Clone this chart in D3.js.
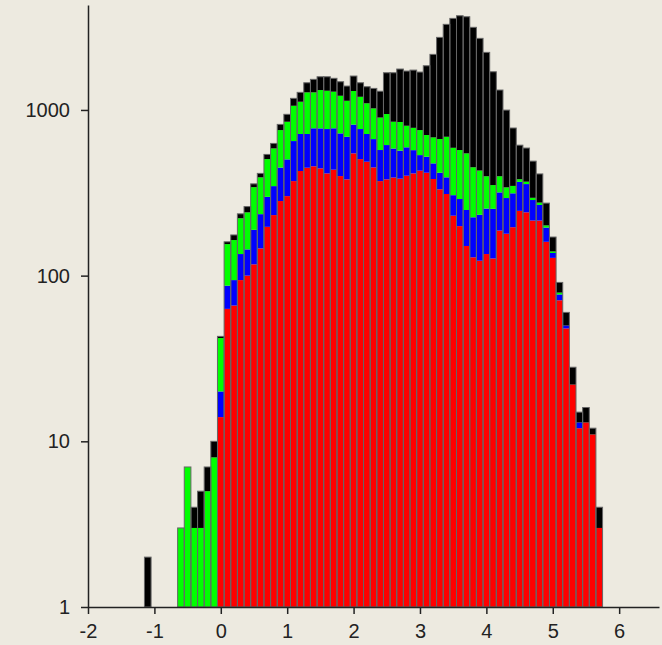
<!DOCTYPE html>
<html>
<head>
<meta charset="utf-8">
<script src="https://cdn.jsdelivr.net/npm/d3@7"></script>
<style>
  html, body { margin: 0; padding: 0; background: #edeae0; }
  .axis text { font-family: 'Liberation Sans', Arial, sans-serif; font-size: 20px; fill: #222; }
  .axis path, .axis line { stroke: #222; stroke-width: 1.5; }
</style>
</head>
<body>
<div id="chart"></div>
<script>
// bin centres, width 0.1
const binCenters = [
    -1.1, -1.0, -0.9, -0.8, -0.7, -0.6, -0.5, -0.4, -0.3, -0.2, -0.1,
    0.0, 0.1, 0.2, 0.3, 0.4, 0.5, 0.6, 0.7, 0.8, 0.9,
    1.0, 1.1, 1.2, 1.3, 1.4, 1.5, 1.6, 1.7, 1.8, 1.9,
    2.0, 2.1, 2.2, 2.3, 2.4, 2.5, 2.6, 2.7, 2.8, 2.9,
    3.0, 3.1, 3.2, 3.3, 3.4, 3.5, 3.6, 3.7, 3.8, 3.9,
    4.0, 4.1, 4.2, 4.3, 4.4, 4.5, 4.6, 4.7, 4.8, 4.9,
    5.0, 5.1, 5.2, 5.3, 5.4, 5.5, 5.6, 5.7
];

const redCounts = [
    0, 0, 0, 0, 0, 0, 0, 0, 0, 0, 0,
    14, 63, 66, 94, 100, 117, 146, 197, 232, 282,
    302, 372, 428, 448, 457, 444, 414, 436, 399, 381,
    547, 505, 487, 450, 372, 381, 391, 385, 401, 414,
    430, 418, 383, 332, 311, 230, 199, 151, 129, 123,
    135, 127, 187, 179, 196, 246, 241, 215, 215, 160,
    128, 71, 48, 22, 12, 13, 11, 3
];

const blueCounts = [
    0, 0, 0, 0, 0, 0, 0, 0, 0, 0, 0,
    6, 24, 28, 41, 44, 72, 89, 102, 115, 167,
    201, 277, 288, 268, 318, 330, 353, 339, 323, 308,
    269, 262, 229, 217, 201, 233, 194, 183, 194, 158,
    104, 104, 93, 86, 81, 76, 91, 98, 96, 110,
    119, 126, 131, 115, 118, 122, 116, 71, 52, 35,
    9, 6, 2, 0, 1, 0, 0, 0
];

const greenCounts = [
    0, 0, 0, 0, 0, 3, 7, 3, 3, 5, 8,
    22, 68, 70, 87, 97, 153, 157, 206, 239, 307,
    346, 411, 405, 561, 502, 545, 539, 514, 496, 447,
    485, 434, 381, 355, 327, 331, 264, 278, 208, 208,
    222, 184, 207, 250, 297, 285, 283, 298, 226, 198,
    144, 99, 80, 47, 34, 14, 12, 9, 9, 6,
    3, 2, 0, 0, 0, 0, 0, 0
];

const blackCounts = [
    2, 0, 0, 0, 0, 0, 0, 1, 2, 2, 2,
    1, 5, 12, 14, 20, 16, 22, 34, 42, 62,
    92, 115, 156, 182, 253, 267, 280, 263, 262, 258,
    301, 258, 284, 327, 397, 732, 828, 920, 914, 960,
    937, 1142, 1482, 2074, 2597, 2979, 3130, 3105, 2702, 2274,
    1828, 1348, 921, 657, 430, 231, 220, 196, 135, 73,
    31, 12, 10, 6, 2, 3, 1, 1
];

const seriesKeys = ['red', 'blue', 'green', 'black'];
const seriesColors = { red: '#ff0000', blue: '#0000ff', green: '#00ff00', black: '#000000' };

const xTicks = [-2, -1, 0, 1, 2, 3, 4, 5, 6];
const yTicks = [1, 10, 100, 1000];
const binWidth = 0.1;

const svgWidth = 662;
const svgHeight = 645;

const rows = binCenters.map((c, i) => ({
    center: c,
    red: redCounts[i],
    blue: blueCounts[i],
    green: greenCounts[i],
    black: blackCounts[i]
}));

const svg = d3.select('#chart')
    .append('svg')
    .attr('width', svgWidth)
    .attr('height', svgHeight)
    .style('display', 'block');

svg.append('rect')
    .attr('width', svgWidth)
    .attr('height', svgHeight)
    .attr('fill', '#edeae0');

const xScale = d3.scaleLinear()
    .domain([-2, 6.6])
    .range([88, 659]);

const yScale = d3.scaleLog()
    .domain([1, 4300])
    .range([607, 5]);

const stacked = d3.stack().keys(seriesKeys)(rows);

const bars = svg.append('g');

stacked.forEach(layer => {
    bars.append('g')
        .attr('fill', seriesColors[layer.key])
        .selectAll('rect')
        .data(layer.filter(d => d[1] > d[0]))
        .join('rect')
        .attr('x', d => xScale(d.data.center - binWidth / 2))
        .attr('width', d => xScale(d.data.center + binWidth / 2) - xScale(d.data.center - binWidth / 2))
        .attr('y', d => yScale(d[1]))
        .attr('height', d => yScale(Math.max(d[0], 1)) - yScale(d[1]));
});

// outline of each whole bar
bars.append('g')
    .selectAll('rect')
    .data(rows.filter(d => d.red + d.blue + d.green + d.black > 0))
    .join('rect')
    .attr('x', d => xScale(d.center - binWidth / 2))
    .attr('width', d => xScale(d.center + binWidth / 2) - xScale(d.center - binWidth / 2))
    .attr('y', d => yScale(d.red + d.blue + d.green + d.black))
    .attr('height', d => yScale(1) - yScale(d.red + d.blue + d.green + d.black))
    .attr('fill', 'none')
    .attr('stroke', '#666')
    .attr('stroke-width', 1);

svg.append('g')
    .attr('class', 'axis')
    .attr('transform', `translate(0, ${yScale(1)})`)
    .call(d3.axisBottom(xScale)
        .tickValues(xTicks)
        .tickSize(7)
        .tickSizeOuter(0)
        .tickPadding(10)
        .tickFormat(d => d));

svg.append('g')
    .attr('class', 'axis')
    .attr('transform', `translate(${xScale(-2)}, 0)`)
    .call(d3.axisLeft(yScale)
        .tickValues(yTicks)
        .tickSize(7)
        .tickSizeOuter(0)
        .tickPadding(11)
        .tickFormat(d => d));
</script>
</body>
</html>
